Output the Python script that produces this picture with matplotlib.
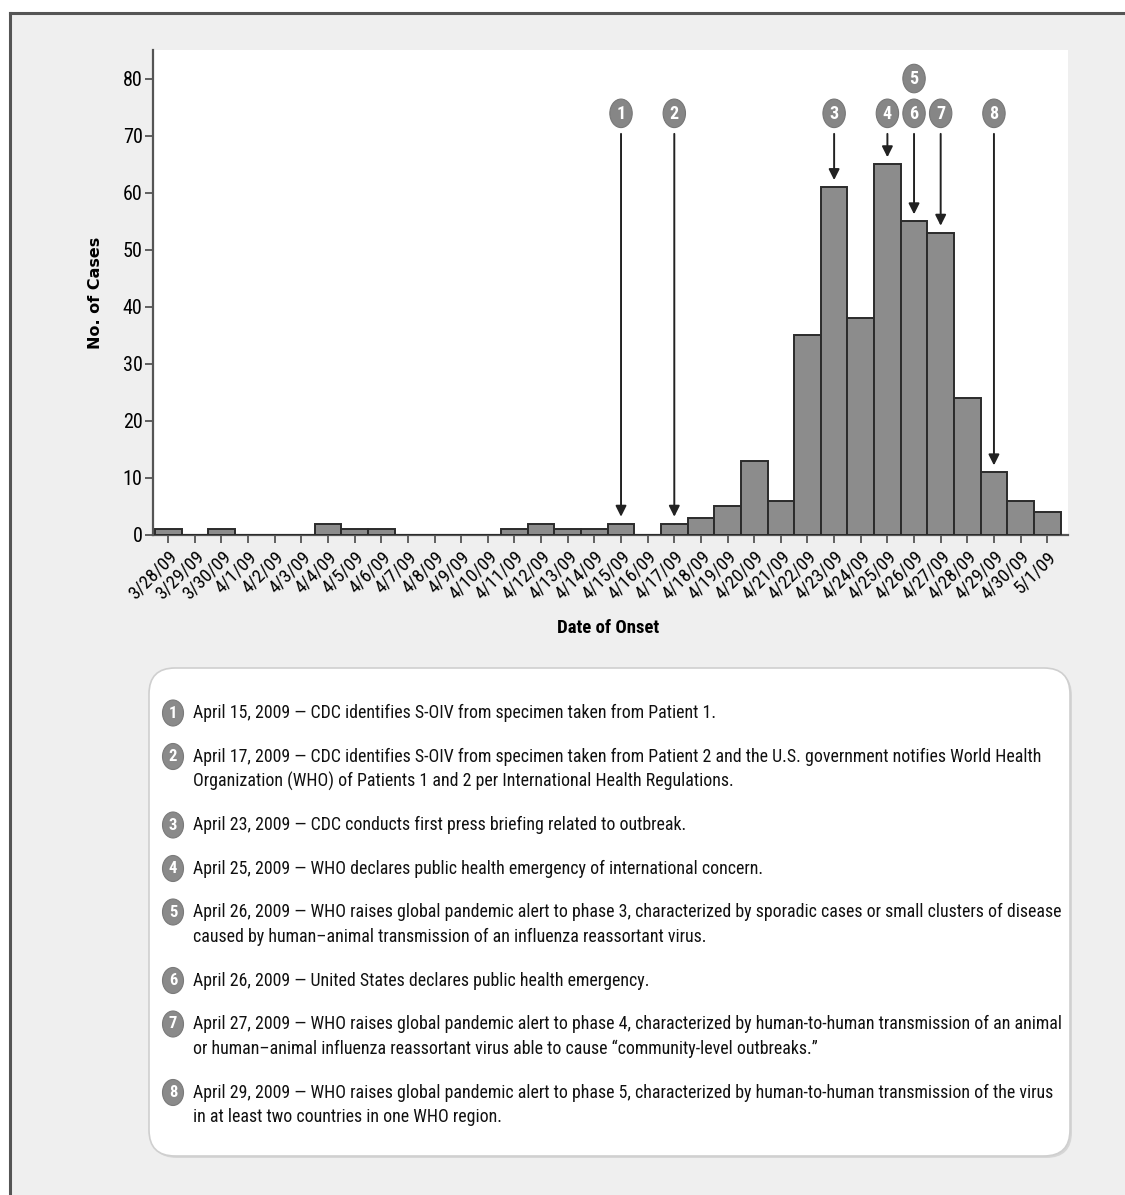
import matplotlib
matplotlib.use("Agg")
import matplotlib.pyplot as plt
from matplotlib.patches import Ellipse, FancyBboxPatch, Rectangle
from matplotlib.lines import Line2D
from matplotlib import font_manager
from matplotlib.font_manager import FontProperties

# ---------------- data ----------------
dates = ["3/28/09", "3/29/09", "3/30/09", "4/1/09", "4/2/09", "4/3/09", "4/4/09",
         "4/5/09", "4/6/09", "4/7/09", "4/8/09", "4/9/09", "4/10/09", "4/11/09",
         "4/12/09", "4/13/09", "4/14/09", "4/15/09", "4/16/09", "4/17/09", "4/18/09",
         "4/19/09", "4/20/09", "4/21/09", "4/22/09", "4/23/09", "4/24/09", "4/25/09",
         "4/26/09", "4/27/09", "4/28/09", "4/29/09", "4/30/09", "5/1/09"]
cases = [1, 0, 1, 0, 0, 0, 2, 1, 1, 0, 0, 0, 0, 1, 2, 1, 1, 2, 0, 2, 3, 5, 13, 6,
         35, 61, 38, 65, 55, 53, 24, 11, 6, 4]

event_numbers = ["1", "2", "3", "4", "5", "6", "7", "8"]
event_dates = ["4/15/09", "4/17/09", "4/23/09", "4/25/09", "4/26/09", "4/26/09",
               "4/27/09", "4/29/09"]
event_texts = [
    "April 15, 2009 \u2014 CDC identifies S-OIV from specimen taken from Patient 1.",
    "April 17, 2009 \u2014 CDC identifies S-OIV from specimen taken from Patient 2 and the U.S. government notifies World Health\n"
    "Organization (WHO) of Patients 1 and 2 per International Health Regulations.",
    "April 23, 2009 \u2014 CDC conducts first press briefing related to outbreak.",
    "April 25, 2009 \u2014 WHO declares public health emergency of international concern.",
    "April 26, 2009 \u2014 WHO raises global pandemic alert to phase 3, characterized by sporadic cases or small clusters of disease\n"
    "caused by human\u2013animal transmission of an influenza reassortant virus.",
    "April 26, 2009 \u2014 United States declares public health emergency.",
    "April 27, 2009 \u2014 WHO raises global pandemic alert to phase 4, characterized by human-to-human transmission of an animal\n"
    "or human\u2013animal influenza reassortant virus able to cause \u201ccommunity-level outbreaks.\u201d",
    "April 29, 2009 \u2014 WHO raises global pandemic alert to phase 5, characterized by human-to-human transmission of the virus\n"
    "in at least two countries in one WHO region.",
]
y_ticks = [0, 10, 20, 30, 40, 50, 60, 70, 80]
x_label = "Date of Onset"
y_label = "No. of Cases"


# ---------------- fonts ----------------
def _is_bold(f):
    w = f.weight
    if isinstance(w, str):
        return w.lower() in ("bold", "semibold", "demibold", "heavy", "black")
    return w >= 600


def pick_font(bold=False):
    ttf = font_manager.fontManager.ttflist
    prefs = ["Liberation Sans Narrow", "Roboto Condensed", "Open Sans Condensed",
             "Noto Sans Condensed", "DejaVu Sans Condensed", "Open Sans SemiCondensed",
             "Noto Sans SemiCondensed", "Roboto Flex"]
    for p in prefs:
        for f in ttf:
            if f.name == p and f.style == "normal" and _is_bold(f) == bold:
                return FontProperties(fname=f.fname)
    for f in ttf:
        if (f.stretch in ("condensed", "semi-condensed", "extra-condensed")
                and f.style == "normal" and _is_bold(f) == bold
                and "Mono" not in f.name and "Serif" not in f.name):
            return FontProperties(fname=f.fname)
    return FontProperties(family="Liberation Sans",
                          weight="bold" if bold else "normal")


FP = pick_font(False)
FPB = pick_font(True)
plt.rcParams["font.family"] = ["Liberation Sans", "DejaVu Sans"]

W, H = 1125, 1195
fig = plt.figure(figsize=(W / 100, H / 100), dpi=100, facecolor="white")

# background / pixel-space axes
bg = fig.add_axes([0, 0, 1, 1], zorder=0)
bg.set_xlim(0, W)
bg.set_ylim(H, 0)
bg.axis("off")
bg.add_patch(Rectangle((10, 13), W - 10, H - 13, facecolor="#efefef", edgecolor="none"))
bg.add_line(Line2D([10, 10], [13, H], color="#555555", lw=2.2))
bg.add_line(Line2D([10, W], [13, 13], color="#555555", lw=2.2))

# ---------------- main chart ----------------
ax_left, ax_right, ax_top, ax_bottom = 153, 1068, 50, 535
ax = fig.add_axes([ax_left / W, 1 - ax_bottom / H, (ax_right - ax_left) / W,
                   (ax_bottom - ax_top) / H], zorder=2)
ax.set_facecolor("white")
x = list(range(len(dates)))
ax.bar(x, cases, width=1.0, color="#8c8c8c", edgecolor="#2b2b2b", linewidth=1.4,
       zorder=3)
ax.set_xlim(-0.57, len(dates) - 1 + 0.78)
ax.set_ylim(0, 85)
ax.set_xticks(x)
xtl = ax.set_xticklabels(dates, rotation=45, ha="right", va="top",
                         rotation_mode="anchor", fontproperties=FP)
ax.set_yticks(y_ticks)
ytl = ax.set_yticklabels([str(v) for v in y_ticks], fontproperties=FP)
for t in xtl:
    t.set_fontsize(13.5)
for t in ytl:
    t.set_fontsize(14.5)
for s in ("top", "right"):
    ax.spines[s].set_visible(False)
for s in ("left", "bottom"):
    ax.spines[s].set_color("#555555")
    ax.spines[s].set_linewidth(1.6)
ax.tick_params(axis="both", direction="out", length=6, width=1.3, color="#555555",
               pad=1.5)
ax.tick_params(axis="x", pad=3)

# event markers and arrows
row_y = 73.9
stack_dy = 6.1
arrow_top = 70.3
seen = {}
for num, d in zip(event_numbers, event_dates):
    seen.setdefault(d, []).append(num)
for d, nums in seen.items():
    xi = dates.index(d)
    for k, num in enumerate(nums):
        level = len(nums) - 1 - k
        cy = row_y + level * stack_dy
        ax.add_patch(Ellipse((xi, cy), 0.84, 5.0, facecolor="#868686",
                             edgecolor="#777777", lw=0.8, zorder=5, clip_on=False))
        ax.text(xi, cy - 0.1, num, color="white", ha="center", va="center",
                zorder=6, fontproperties=FPB, fontsize=13)
    ax.annotate("", xy=(xi, cases[xi] + 1.2), xytext=(xi, arrow_top),
                arrowprops=dict(arrowstyle="-|>", color="#222222", lw=1.4,
                                mutation_scale=16, shrinkA=0, shrinkB=0),
                zorder=6)

fig.text(95 / W, 1 - 293 / H, y_label, rotation=90, ha="center", va="center",
         fontsize=11.5, fontweight="bold", family="DejaVu Sans")
xlab = fig.text(608 / W, 1 - 628 / H, x_label, ha="center", va="center",
                fontproperties=FPB)

# ---------------- legend box ----------------
bg.add_patch(FancyBboxPatch((151, 670), 921, 488,
                            boxstyle="round,pad=0,rounding_size=26",
                            facecolor="#d6d6d6", edgecolor="none"))
bg.add_patch(FancyBboxPatch((149, 668), 921, 488,
                            boxstyle="round,pad=0,rounding_size=26",
                            facecolor="white", edgecolor="#cfcfcf", lw=1.2))
y = 713
line_step = 25
gap = 43.5
legend_texts = []
for num, txt in zip(event_numbers, event_texts):
    bg.add_patch(Ellipse((173, y), 21, 26, facecolor="#8a8a8a", edgecolor="#7a7a7a",
                         lw=0.8))
    bg.text(173, y, num, color="white", ha="center", va="center",
            fontproperties=FPB, fontsize=12)
    lines = txt.split("\n")
    for i, ln in enumerate(lines):
        legend_texts.append(bg.text(193, y + i * line_step, ln, ha="left",
                                    va="center", color="#111111",
                                    fontproperties=FP))
    y += (len(lines) - 1) * line_step + gap


# ---------------- fit text sizes to the reference's measured extents ----------
def fit(texts, ref_text, target_px, start=12.0, max_size=None):
    for t in texts:
        t.set_fontsize(start)
    fig.canvas.draw()
    r = fig.canvas.get_renderer()
    w = ref_text.get_window_extent(r).width
    s = start * target_px / w
    if max_size is not None:
        s = min(s, max_size)
    for t in texts:
        t.set_fontsize(s)
    return s


fit(legend_texts, legend_texts[1], 847, max_size=14)
fit([xlab], xlab, 102, max_size=15)

fig.savefig("out.png", dpi=100, facecolor="white")
